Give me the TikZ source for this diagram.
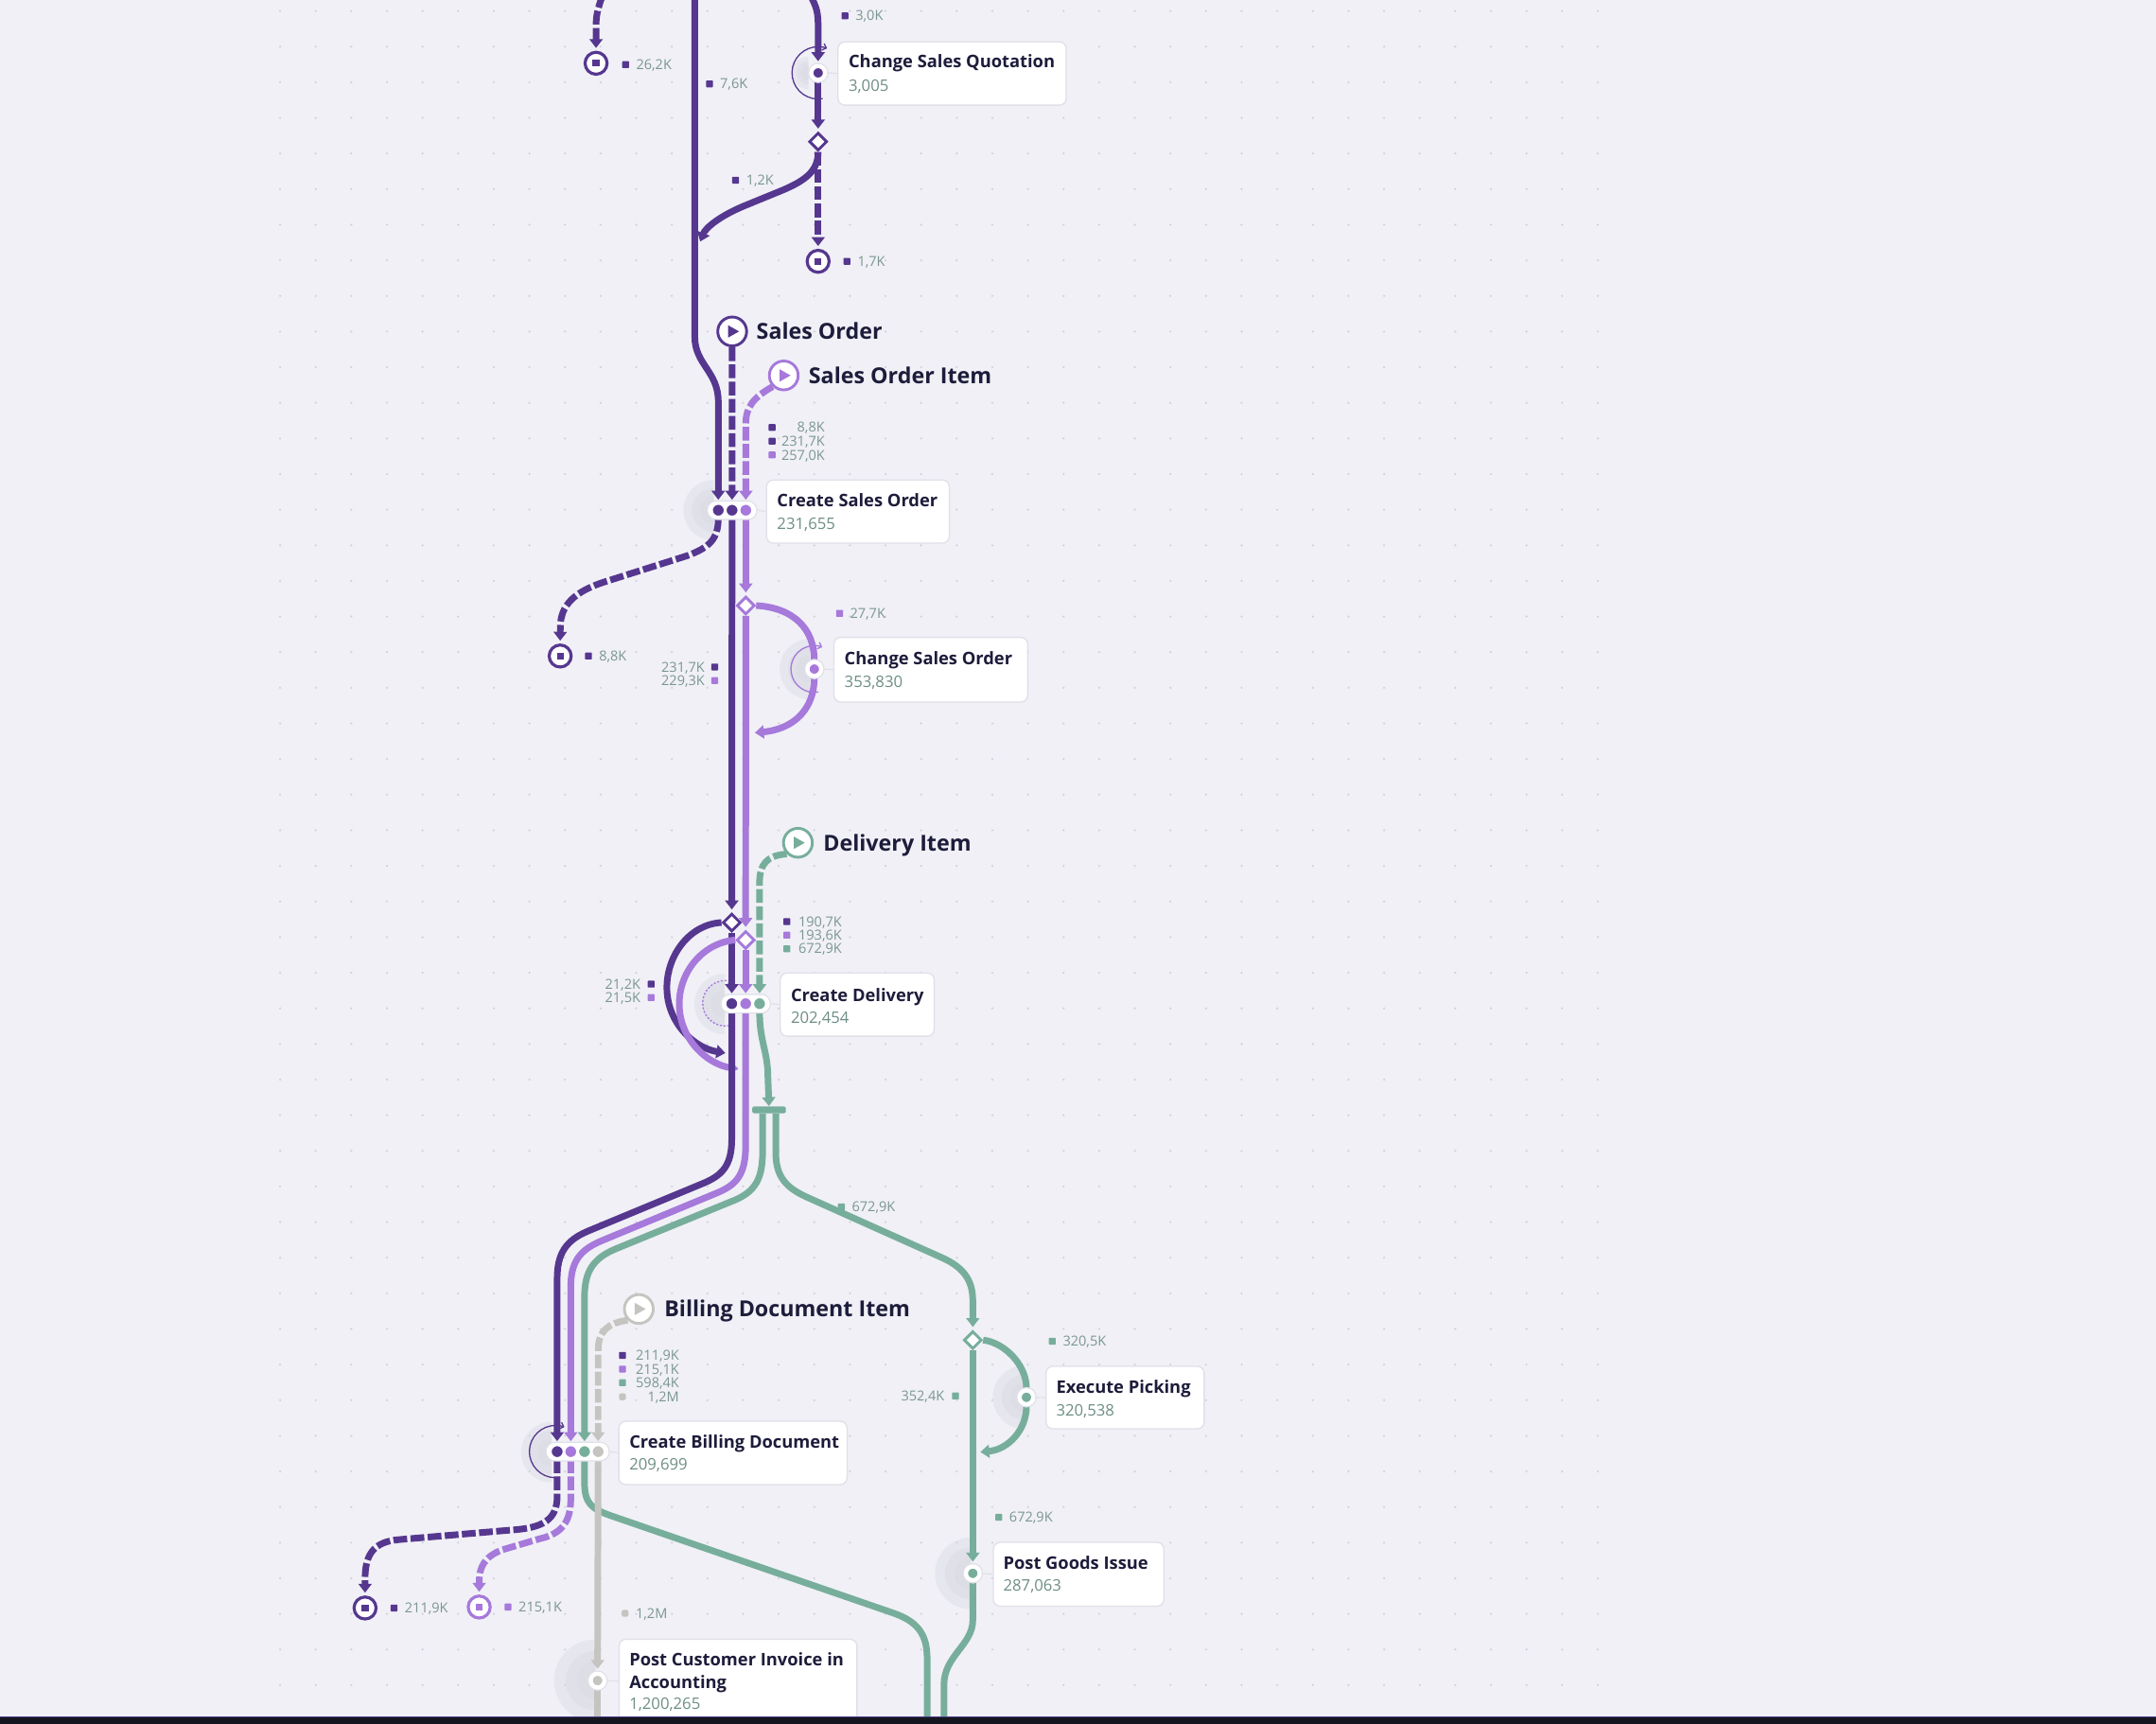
\documentclass[tikz,border=0pt]{standalone}
\usepackage{fontspec}
\setmainfont{Open Sans}
\usetikzlibrary{arrows.meta,shapes.geometric,calc,backgrounds}
\definecolor{dp}{HTML}{56378F}
\definecolor{lp}{HTML}{A679DB}
\definecolor{gr}{HTML}{77AE9B}
\definecolor{gy}{HTML}{C6C4C1}
\definecolor{bgc}{HTML}{F0F0F6}
\definecolor{txt}{HTML}{1D1C3B}
\definecolor{valc}{HTML}{6E8E86}
\definecolor{cntc}{HTML}{7B9790}
\definecolor{bord}{HTML}{E0E0E8}
\definecolor{dotc}{HTML}{D2D2DB}
\definecolor{halo}{HTML}{D9D9E3}
\definecolor{barc}{HTML}{15151F}
\definecolor{barl}{HTML}{4A3C8C}
\newcommand{\myhalo}[2]{\foreach \hf in {1,0.72,0.45}{\fill[halo,opacity=0.4] ($(#1)+(0,{-#2*\hf})$) arc[start angle=270, end angle=90, radius={#2*\hf}] -- cycle;}}
\tikzset{
 fl/.style={draw=#1, line width=4.8pt, line join=round},
 dsh/.style={dash pattern=on 10pt off 2.5pt},
 arr/.style={-{Triangle[length=6.5pt,width=9.5pt]}, shorten >=2pt},
 loopl/.style={draw=#1, line width=0.9pt, -{Straight Barb[length=2.5pt,width=5pt]}},
 stn/.style={circle, draw=#1, fill=white, line width=2pt, minimum size=21pt, inner sep=0pt,
   path picture={\fill[#1] ([shift={(-3pt,4.5pt)}]path picture bounding box.center) -- ++(8pt,-4.5pt) -- ++(-8pt,-4.5pt) -- cycle;}},
 endn/.style={circle, draw=#1, fill=white, line width=2.2pt, minimum size=16pt, inner sep=0pt,
   path picture={\fill[#1] ([shift={(-2.5pt,-2.5pt)}]path picture bounding box.center) rectangle ++(5pt,5pt);}},
 sn/.style={circle, fill=#1, draw=white, line width=3pt, minimum size=10pt, inner sep=0pt, preaction={draw=bord, line width=4.8pt}},
 mc/.style={circle, fill=#1, draw=white, line width=1.6pt, minimum size=9.6pt, inner sep=0pt},
 pill/.style={rectangle, rounded corners=6.5pt, fill=white, draw=bord, line width=0.8pt, minimum height=13.5pt, inner sep=0pt},
 dia/.style={diamond, fill=white, draw=#1, line width=2pt, minimum size=13pt, inner sep=0pt},
 box/.style={rectangle, draw=bord, fill=white, rounded corners=5pt, line width=0.9pt, anchor=north west, inner sep=0pt},
 lsq/.style={rectangle, fill=#1, minimum size=5pt, inner sep=0pt, rounded corners=0.5pt},
 cnt/.style={anchor=base west, yshift=-3.6pt, font=\fontsize{10}{12}\selectfont, text=cntc, inner sep=0pt},
 cntr/.style={cnt, anchor=base east},
 ttl/.style={anchor=base west, yshift=-4.5pt, font=\fontsize{12.6}{15}\selectfont\bfseries, text=txt, inner sep=0pt},
 valt/.style={anchor=base west, yshift=-4.1pt, font=\fontsize{11.5}{13}\selectfont, text=valc, inner sep=0pt},
 hdr/.style={anchor=base west, yshift=-5.7pt, font=\fontsize{16}{18}\selectfont\bfseries, text=txt, inner sep=0pt},
 link/.style={draw=bord, line width=0.8pt},
}
\begin{document}
\begin{tikzpicture}[x=1pt,y=-1pt]
\useasboundingbox (0,0) rectangle (1568,1253);

% ---------- boxes ----------
\node[box, minimum width=166pt, minimum height=46pt] (csqbox) at (609,30) {};
\node[box, minimum width=133pt, minimum height=46pt] (csobox) at (557,348.5) {};
\node[box, minimum width=141pt, minimum height=47pt] (chsobox) at (606,463) {};
\node[box, minimum width=112pt, minimum height=46pt] (cdbox) at (567,707) {};
\node[box, minimum width=166pt, minimum height=46pt] (cbdbox) at (449.6,1033) {};
\node[box, minimum width=173pt, minimum height=61pt] (pciabox) at (449.8,1191.5) {};
\node[box, minimum width=115pt, minimum height=45.5pt] (epbox) at (760.3,993) {};
\node[box, minimum width=124pt, minimum height=46.5pt] (pgibox) at (722,1121) {};

% ---------- pills ----------
\node[pill, minimum width=36pt] (csop) at (532.4,371) {};
\node[pill, minimum width=36pt] (cdp) at (542.3,729.8) {};
\node[pill, minimum width=46pt] (cbdp) at (420.1,1055.5) {};

% ---------- event nodes ----------
\node[sn=dp] (csq) at (595,53) {};
\node[sn=lp] (csonode) at (592.2,486.5) {};
\node[sn=gr] (ep) at (746.5,1016) {};
\node[sn=gr] (pgi) at (707.5,1144) {};
\node[sn=gy] (pcia) at (434.6,1222) {};

\node[mc=dp] (cso1) at (522.4,371) {};
\node[mc=dp] (cso2) at (532.4,371) {};
\node[mc=lp] (cso3) at (542.4,371) {};
\node[mc=dp] (cd1) at (532.2,729.8) {};
\node[mc=lp] (cd2) at (542.3,729.8) {};
\node[mc=gr] (cd3) at (552.4,729.8) {};
\node[mc=dp] (cbd1) at (405.2,1055.5) {};
\node[mc=lp] (cbd2) at (415.1,1055.5) {};
\node[mc=gr] (cbd3) at (425.1,1055.5) {};
\node[mc=gy] (cbd4) at (435,1055.5) {};

\node[dia=dp] (d1) at (595,103) {};
\node[dia=lp] (d2) at (542.4,440.3) {};
\node[dia=dp] (d3) at (532.2,670.8) {};
\node[dia=lp] (d4) at (542.3,683.5) {};
\node[dia=gr] (d5) at (707.5,974.4) {};

\node[rectangle, fill=gr, rounded corners=1.5pt, minimum width=24.5pt, minimum height=5pt, inner sep=0pt] (gbar) at (559.3,807) {};

\node[stn=dp] (so) at (532.5,241) {};
\node[stn=lp] (soi) at (570,273) {};
\node[stn=gr] (di) at (580.3,612.8) {};
\node[stn=gy] (bdi) at (464.6,951.8) {};

\node[endn=dp] (e1) at (433.5,46) {};
\node[endn=dp] (e2) at (595,190) {};
\node[endn=dp] (e3) at (407.4,477) {};
\node[endn=dp] (e4) at (265.5,1169.2) {};
\node[endn=lp] (e5) at (348.5,1168.5) {};

% ---------- links node -> box ----------
\draw[link] (csq.east) -- (csqbox.west);
\draw[link] (csop.east) -- (csobox.west);
\draw[link] (csonode.east) -- (chsobox.west);
\draw[link] (cdp.east) -- (cdbox.west);
\draw[link] (cbdp.east) -- (cbdbox.west);
\draw[link] (pcia.east) -- (pciabox.west);
\draw[link] (ep.east) -- (epbox.west);
\draw[link] (pgi.east) -- (pgibox.west);

% ---------- headers ----------
\node[hdr] (soh) at (550,241) {Sales Order};
\node[hdr] (soih) at (588,273) {Sales Order Item};
\node[hdr] (dih) at (598.6,613) {Delivery Item};
\node[hdr] (bdih) at (483,952) {Billing Document Item};

% ---------- box texts ----------
\node[ttl] (csqt) at (617,45) {Change Sales Quotation};
\node[valt] (csqv) at (617,62) {3,005};
\node[ttl] (csot) at (565,364) {Create Sales Order};
\node[valt] (csov) at (565,380.5) {231,655};
\node[ttl] (chsot) at (614,479) {Change Sales Order};
\node[valt] (chsov) at (614,496) {353,830};
\node[ttl] (cdt) at (575,723.6) {Create Delivery};
\node[valt] (cdv) at (575,739.7) {202,454};
\node[ttl] (cbdt) at (457.5,1048.6) {Create Billing Document};
\node[valt] (cbdv) at (457.5,1064.8) {209,699};
\node[ttl] (pciat1) at (457.5,1206.8) {Post Customer Invoice in};
\node[ttl] (pciat2) at (457.5,1223.1) {Accounting};
\node[valt] (pciav) at (457.5,1238.9) {1,200,265};
\node[ttl] (ept) at (768,1008.5) {Execute Picking};
\node[valt] (epv) at (768,1025.3) {320,538};
\node[ttl] (pgit) at (729.5,1136.3) {Post Goods Issue};
\node[valt] (pgiv) at (729.5,1152.8) {287,063};

% ---------- count labels ----------
\node[lsq=dp] (q1) at (455,47) {}; \node[cnt] (c1) at (462.5,47) {26,2K};
\node[lsq=dp] (q2) at (516,61) {}; \node[cnt] (c2) at (523.5,61) {7,6K};
\node[lsq=dp] (q3) at (614.5,11.5) {}; \node[cnt] (c3) at (622,11.5) {3,0K};
\node[lsq=dp] (q4) at (535,131) {}; \node[cnt] (c4) at (542.5,131) {1,2K};
\node[lsq=dp] (q5) at (616,190) {}; \node[cnt] (c5) at (623.5,190) {1,7K};
\node[lsq=dp] (q6) at (561.5,310.8) {}; \node[cntr] (c6) at (600,310.8) {8,8K};
\node[lsq=dp] (q7) at (561.5,320.8) {}; \node[cntr] (c7) at (600,320.8) {231,7K};
\node[lsq=lp] (q8) at (561.5,330.8) {}; \node[cntr] (c8) at (600,330.8) {257,0K};
\node[lsq=dp] (q9) at (428,477) {}; \node[cnt] (c9) at (435.5,477) {8,8K};
\node[lsq=lp] (q10) at (610.6,446) {}; \node[cnt] (c10) at (618,446) {27,7K};
\node[lsq=dp] (q11) at (519.8,485) {}; \node[cntr] (c11) at (512.7,485) {231,7K};
\node[lsq=lp] (q12) at (519.8,494.8) {}; \node[cntr] (c12) at (512.7,494.8) {229,3K};
\node[lsq=dp] (q13) at (572.2,670.2) {}; \node[cntr] (c13) at (612.4,670.2) {190,7K};
\node[lsq=lp] (q14) at (572.2,680) {}; \node[cntr] (c14) at (612.4,680) {193,6K};
\node[lsq=gr] (q15) at (572.2,689.9) {}; \node[cntr] (c15) at (612.4,689.9) {672,9K};
\node[lsq=dp] (q16) at (473.6,715.6) {}; \node[cntr] (c16) at (466,715.6) {21,2K};
\node[lsq=lp] (q17) at (473.6,725.4) {}; \node[cntr] (c17) at (466,725.4) {21,5K};
\node[lsq=gr] (q18) at (611.9,877.5) {}; \node[cnt] (c18) at (619.4,877.5) {672,9K};
\node[lsq=dp] (q19) at (452.7,985.5) {}; \node[cntr] (c19) at (494.1,985.5) {211,9K};
\node[lsq=lp] (q20) at (452.7,995.5) {}; \node[cntr] (c20) at (494.1,995.5) {215,1K};
\node[lsq=gr] (q21) at (452.7,1005.4) {}; \node[cntr] (c21) at (494.1,1005.4) {598,4K};
\node[lsq=gy, rounded corners=1.5pt] (q22) at (452.7,1015.6) {}; \node[cntr] (c22) at (494.1,1015.6) {1,2M};
\node[lsq=dp] (q23) at (286.6,1169.2) {}; \node[cnt] (c23) at (294.2,1169.2) {211,9K};
\node[lsq=lp] (q24) at (369.5,1168.5) {}; \node[cnt] (c24) at (377,1168.5) {215,1K};
\node[lsq=gy, rounded corners=1.5pt] (q25) at (454.6,1173.1) {}; \node[cnt] (c25) at (462.2,1173.1) {1,2M};
\node[lsq=gr] (q26) at (765.3,975.2) {}; \node[cnt] (c26) at (772.8,975.2) {320,5K};
\node[lsq=gr] (q27) at (694.9,1015) {}; \node[cntr] (c27) at (687,1015) {352,4K};
\node[lsq=gr] (q28) at (726.4,1103.3) {}; \node[cnt] (c28) at (733.9,1103.3) {672,9K};

% ---------- background layer: canvas, halos, loops, flows ----------
\begin{pgfonlayer}{background}
\fill[bgc] (0,0) rectangle (1568,1253);
\foreach \i in {0,...,37}{\foreach \j in {0,...,47}{\fill[dotc] ({203.7+\i*25.9},{8+\j*25.9}) circle (0.85);}}
\myhalo{588,53}{12}
\myhalo{519,371}{22}
\myhalo{589,486.5}{22}
\myhalo{527,730}{22}
\myhalo{401,1056}{22}
\myhalo{745,1016}{23}
\myhalo{706,1144}{26}
\myhalo{433,1222}{30}
% self loops
\draw[loopl=dp] ($(csq)+(3.3,18.7)$) arc[start angle=80, end angle=290, radius=19];
\draw[loopl=lp] ($(csonode)+(2.95,16.7)$) arc[start angle=80, end angle=290, radius=17];
\draw[loopl=lp, dash pattern=on 1.5pt off 1.2pt] ($(527.5,729.5)+(2.87,16.25)$) arc[start angle=80, end angle=290, radius=16.5];
\draw[loopl=dp] ($(404,1055.5)+(3.3,18.7)$) arc[start angle=80, end angle=290, radius=19];

% flows: top
\coordinate (t1) at (438.5,-4);
\coordinate (t2) at (505.3,-4);
\coordinate (t3) at (589,-4);
\coordinate (j1) at (508.5,177.5);
\draw[fl=dp, dsh, arr] (t1) .. controls (434,8) and (433.5,12) .. (433.5,20) -- (e1.north);
\draw[fl=dp, arr] (t2) -- (505.3,245) .. controls (505.3,265) and (522.4,270) .. (522.4,292) -- (cso1.north);
\draw[fl=dp, arr] (t3) .. controls (594.5,6) and (595,10) .. (595,20) -- (csq.north);
\draw[fl=dp, arr] (csq.south) -- (d1.north);
\draw[fl=dp, dsh, arr] (d1.south) -- (e2.north);
\draw[fl=dp, arr] (d1.south) .. controls (595,125) and (585,132) .. (565,140) -- (543,149) .. controls (523,157) and (513,166) .. (j1);
% sales order
\draw[fl=dp, dsh, arr] (so.south) -- (cso2.north);
\draw[fl=lp, dsh, arr] (soi.south west) .. controls (548,289) and (542.4,296) .. (542.4,308) -- (cso3.north);
\draw[fl=dp, dsh, arr] (cso1.south) .. controls (522.4,392) and (516,398) .. (500,404) -- (440,423) .. controls (418,430) and (407.5,440) .. (407.5,456) -- (e3.north);
\draw[fl=dp, arr] (cso2.south) -- (d3.north);
\draw[fl=lp, arr] (cso3.south) -- (d2.north);
\draw[fl=lp, arr] (d2.south) -- (d4.north);
\coordinate (j2) at (547,533);
\draw[fl=lp] (d2.east) .. controls (578,442) and (592.2,458) .. (csonode.north);
\draw[fl=lp, arr] (csonode.south) .. controls (592.2,515) and (578,530) .. (j2);
% delivery
\coordinate (j3) at (529.5,766);
\coordinate (j4) at (539,777.5);
\draw[fl=gr, dsh, arr] (di.south west) .. controls (558,622) and (552.4,628) .. (552.4,642) -- (cd3.north);
\draw[fl=dp, arr] (d3.west) .. controls (502,672) and (485,694) .. (485,718) .. controls (485,744) and (505,762) .. (j3);
\draw[fl=dp, arr] (d3.south) -- (cd1.north);
\draw[fl=lp, arr] (d4.west) .. controls (513,685) and (494,705) .. (494,730) .. controls (494,756) and (515,774) .. (j4);
\draw[fl=lp, arr] (d4.south) -- (cd2.north);
\draw[fl=gr, -{Triangle[length=6.5pt,width=9.5pt]}] (cd3.south) .. controls (552.4,758) and (558.5,764) .. (558.5,784) -- (gbar.north);
\draw[fl=dp, arr] (cd1.south) -- (532.2,828) .. controls (532.2,848) and (525,855) .. (510,861) -- (428,895) .. controls (411,902) and (405.2,912) .. (405.2,930) -- (cbd1.north);
\draw[fl=lp, arr] (cd2.south) -- (542.3,833) .. controls (542.3,855) and (535,862) .. (520,868) -- (438,902) .. controls (421,909) and (415.1,918) .. (415.1,936) -- (cbd2.north);
\draw[fl=gr, arr] ($(gbar.south)+(-4.7,0)$) -- (554.6,838) .. controls (554.6,860) and (547,868) .. (531,874) -- (448,908) .. controls (431,915) and (425.1,925) .. (425.1,943) -- (cbd3.north);
\draw[fl=gr, arr] ($(gbar.south)+(4.9,0)$) -- (564.2,838) .. controls (564.2,856) and (572,864) .. (588,871) -- (684,914) .. controls (700,921) and (707.5,930) .. (707.5,946) -- (d5.north);
% billing
\coordinate (g2) at (674.3,1258);
\coordinate (g3) at (686.5,1258);
\coordinate (g4) at (434.6,1258);
\coordinate (j5) at (711,1056);
\draw[fl=gy, dsh, arr] (bdi.south west) .. controls (442,962) and (435,968) .. (435,982) -- (cbd4.north);
\draw[fl=dp, dsh, arr] (cbd1.south) -- (405.2,1088) .. controls (405.2,1105) and (395,1111) .. (372,1112.5) -- (290,1119.5) .. controls (272,1121) and (265.5,1130) .. (265.5,1148) -- (e4.north);
\draw[fl=lp, dsh, arr] (cbd2.south) -- (415.1,1090) .. controls (415.1,1110) and (405,1116) .. (392,1119) -- (365,1127) .. controls (352,1132) and (348.5,1140) .. (348.5,1150) -- (e5.north);
\draw[fl=gr] (cbd3.south) -- (425.1,1078) .. controls (425.1,1093) and (430,1097) .. (444,1102) -- (650,1173) .. controls (667,1179) and (674.3,1188) .. (674.3,1206) -- (g2);
\draw[fl=gy, arr] (cbd4.south) -- (pcia.north);
\draw[fl=gy] (pcia.south) -- (g4);
% picking
\draw[fl=gr] (d5.east) .. controls (730,976) and (746.5,992) .. (ep.north);
\draw[fl=gr, arr] (ep.south) .. controls (746.5,1040) and (733,1054) .. (j5);
\draw[fl=gr, arr] (d5.south) -- (pgi.north);
\draw[fl=gr] (pgi.south) -- (707.5,1178) .. controls (707.5,1196) and (686.5,1204) .. (686.5,1225) -- (g3);
\end{pgfonlayer}

% ---------- bottom bar ----------
\fill[barc] (0,1248.6) rectangle (1568,1254);
\draw[barl, line width=0.7pt] (0,1248.6) -- (1568,1248.6);
\end{tikzpicture}
\end{document}
